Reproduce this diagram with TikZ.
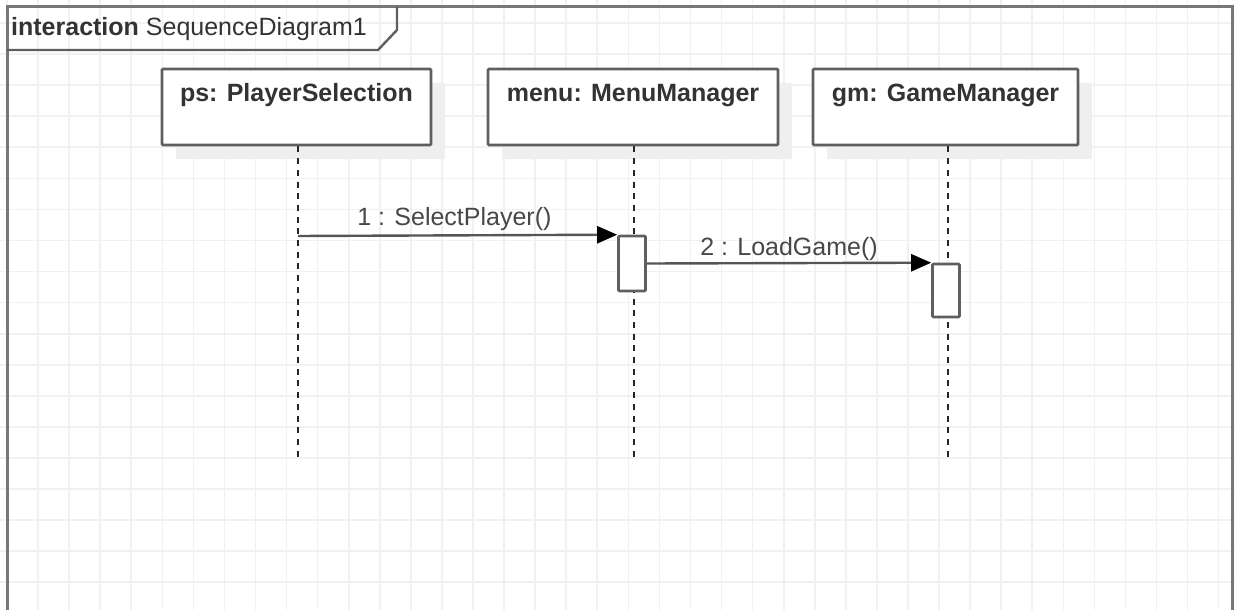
\documentclass[tikz,border=0pt]{standalone}
\usepackage{fontspec}
\setmainfont{Liberation Sans}
\usetikzlibrary{arrows.meta,shadows}

\definecolor{gridc}{HTML}{F1F1F1}
\definecolor{framec}{HTML}{777777}
\definecolor{boxc}{HTML}{5F5F5F}
\definecolor{shadowc}{HTML}{EFEFEF}
\definecolor{textc}{HTML}{333333}
\definecolor{msgc}{HTML}{555555}

\tikzset{
  gridline/.style={draw=gridc, line width=1.6pt},
  framebox/.style={draw=framec, line width=3pt},
  framelabel/.style={draw=boxc, line width=2.4pt, line join=miter},
  lifebox/.style={draw=boxc, line width=2.8pt, fill=white, rounded corners=1pt,
    minimum width=269pt, minimum height=76pt, inner sep=0pt,
    drop shadow={shadow xshift=14pt, shadow yshift=-14pt, fill=shadowc, opacity=1}},
  lifename/.style={anchor=base, text=textc, font=\fontsize{25}{30}\selectfont\bfseries, inner sep=0pt},
  lifeline/.style={draw=black!85, line width=1.8pt, dash pattern=on 6pt off 5.7pt},
  actbox/.style={draw=boxc, line width=2.6pt, fill=white, rounded corners=1pt,
    minimum width=27pt, inner sep=0pt},
  msg/.style={draw=msgc, line width=2.4pt, -{Triangle[length=20pt,width=17pt,color=black]}},
  msglabel/.style={anchor=base, text=textc!90, font=\fontsize{25}{30}\selectfont, inner sep=0pt},
}

\begin{document}
\begin{tikzpicture}[x=1pt, y=-1pt]
\useasboundingbox (0,0) rectangle (1235,610);

% background grid
\foreach \i in {0,...,39}
  \draw[gridline] ({6.95+\i*31.07},0) -- ({6.95+\i*31.07},610);
\foreach \j in {0,...,20}
  \draw[gridline] (0,{-8.07+\j*31.07}) -- (1235,{-8.07+\j*31.07});

% interaction frame and its name tab
\draw[framebox] (7,640) -- (7,7) -- (1232,7) -- (1232,640);
\draw[framelabel] (7,50) -- (378,50) -- (397,30) -- (397,7);
\node[anchor=base west, text=textc, inner sep=0pt, font=\fontsize{25}{30}\selectfont]
  (frametitle) at (11,36) {\textbf{interaction} SequenceDiagram1};

% lifeline heads
\node[lifebox] (ps)   at (296.5,107) {};
\node[lifebox, minimum width=290pt] (menu) at (633,107) {};
\node[lifebox, minimum width=265pt] (gm)   at (945.5,107) {};
\node[lifename] (psname)   at ([yshift=-34pt]ps.north)   {ps: PlayerSelection};
\node[lifename] (menuname) at ([yshift=-34pt]menu.north) {menu: MenuManager};
\node[lifename] (gmname)   at ([yshift=-34pt]gm.north)   {gm: GameManager};

% lifelines
\coordinate (psend)   at (298,457);
\coordinate (menuend) at (634,457);
\coordinate (gmend)   at (948,457);
\draw[lifeline] (ps.south -| psend) -- (psend);
\draw[lifeline] (menu.south -| menuend) -- (menuend);
\draw[lifeline] (gm.south -| gmend) -- (gmend);

% activations
\node[actbox, minimum height=55pt] (act1) at (632,263.5) {};
\node[actbox, minimum height=53pt] (act2) at (946,290.5) {};

% messages
\coordinate (psmsg) at (298,236);
\draw[msg] (psmsg) -- (act1.north west)
  node[msglabel, pos=0.49, yshift=10pt] (m1) {1 : SelectPlayer()};
\draw[msg] (act1.east) -- (act2.north west)
  node[msglabel, pos=0.5, yshift=7.5pt] (m2) {2 : LoadGame()};
\end{tikzpicture}
\end{document}
